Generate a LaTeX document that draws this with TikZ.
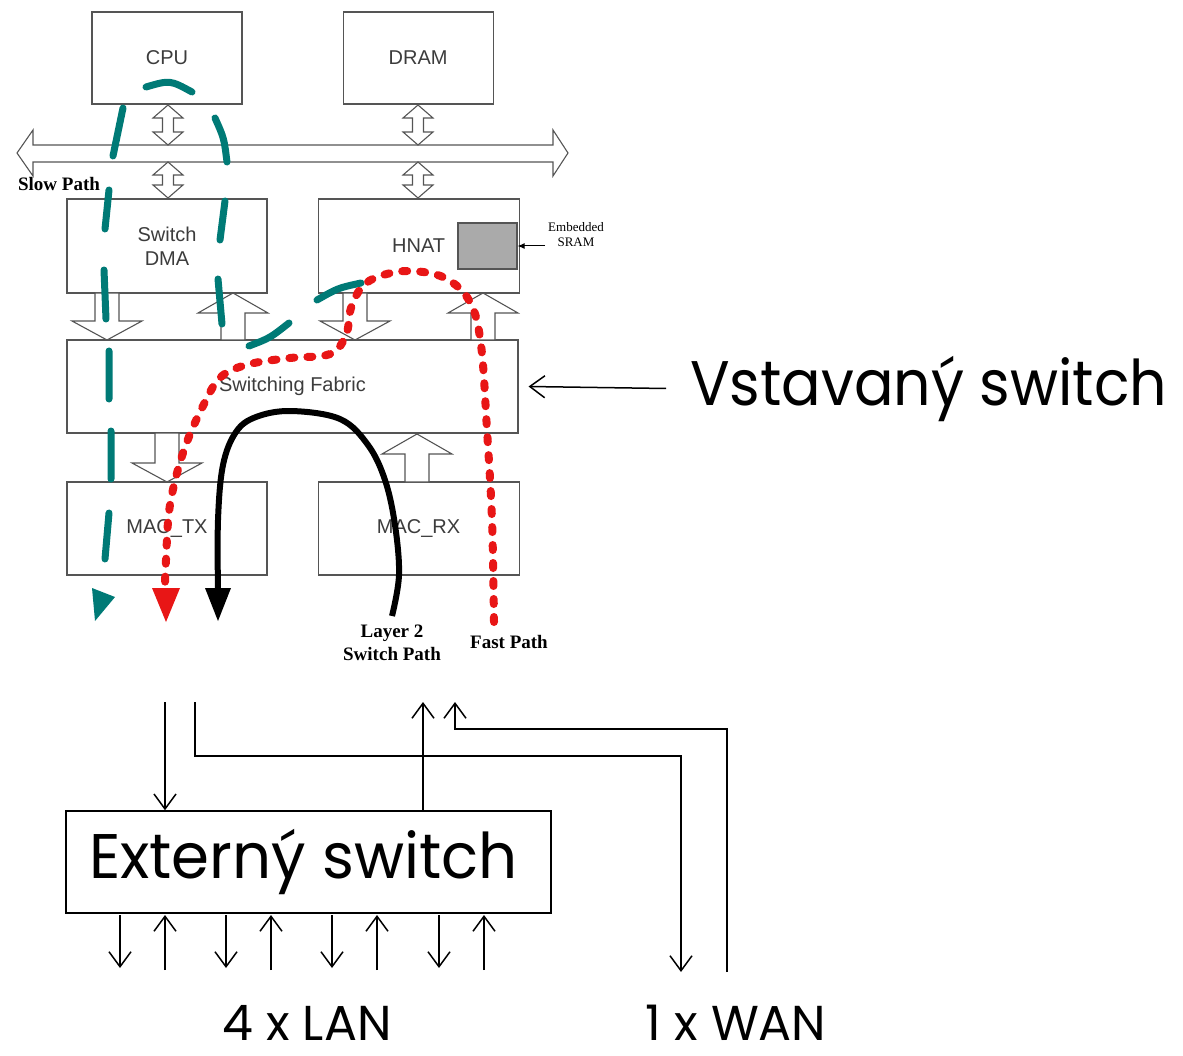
\documentclass[tikz,border=0pt]{standalone}
\usepackage{fontspec}
\setmainfont{Liberation Sans}
\newfontfamily\gothic{Poppins}
\newfontfamily\labelserif{Liberation Serif}
\usetikzlibrary{arrows.meta,positioning}
\definecolor{boxgray}{RGB}{85,85,85}
\definecolor{labelgray}{RGB}{60,60,60}
\definecolor{slowteal}{RGB}{0,122,118}
\definecolor{fastred}{RGB}{232,22,22}
\definecolor{sramgray}{RGB}{170,170,170}
\newcommand{\fatdown}[3]{\draw[fatarrow] (#1-12,#2) -- (#1-12,#3-19) -- (#1-35,#3-19) -- (#1,#3) -- (#1+35,#3-19) -- (#1+12,#3-19) -- (#1+12,#2) -- cycle;}
\newcommand{\fatup}[3]{\draw[fatarrow] (#1-12,#2) -- (#1-12,#3+20) -- (#1-35,#3+20) -- (#1,#3) -- (#1+35,#3+20) -- (#1+12,#3+20) -- (#1+12,#2) -- cycle;}
\newcommand{\dblarrow}[3]{\draw[fatarrow] (#1,#2) -- (#1+15,#2+13) -- (#1+5.5,#2+13) -- (#1+5.5,#3-13) -- (#1+15,#3-13) -- (#1,#3) -- (#1-15,#3-13) -- (#1-5.5,#3-13) -- (#1-5.5,#2+13) -- (#1-15,#2+13) -- cycle;}
\begin{document}
\begin{tikzpicture}[x=1pt,y=-1pt,
  blk/.style={draw=boxgray, line width=1.1pt, inner sep=0pt, text=labelgray, align=center, font=\fontsize{20}{24}\selectfont},
  fatarrow/.style={draw=boxgray, fill=white, line width=1.1pt},
  thinarrow/.style={line width=1.5pt, -{Straight Barb[length=15pt,width=22pt]}},
  slowpath/.style={draw=slowteal, line width=7pt, line cap=round},
  fastpath/.style={draw=fastred, line width=8pt, line cap=round, dash pattern=on 5pt off 13pt},
  switchpath/.style={line width=6pt},
  pathlabel/.style={font=\labelserif\bfseries\fontsize{19}{23}\selectfont, align=center, inner sep=0pt},
  bigtext/.style={font=\gothic\fontsize{63}{70}\selectfont, inner sep=0pt},
  midtext/.style={font=\gothic\fontsize{49}{55}\selectfont, inner sep=0pt}]
\useasboundingbox (0,0) rectangle (1183,1056);
\node[blk, minimum width=150pt, minimum height=92pt] (cpu) at (167,58) {CPU};
\node[blk, minimum width=150pt, minimum height=92pt, right=100pt of cpu] (dram) {DRAM};
\node[blk, minimum width=200pt, minimum height=94pt] (dma) at (167,246) {Switch\\DMA};
\node[blk, minimum width=201pt, minimum height=94pt, right=50pt of dma] (hnat) {HNAT};
\node[draw=boxgray, fill=sramgray, line width=1.1pt, minimum width=59pt, minimum height=46pt, inner sep=0pt] (sram) at (487.5,246) {};
\node[blk, minimum width=451pt, minimum height=93pt] (fabric) at (292.5,386.5) {Switching Fabric};
\node[blk, minimum width=200pt, minimum height=93pt] (mactx) at (167,528.5) {MAC\_TX};
\node[blk, minimum width=201pt, minimum height=93pt, right=50pt of mactx] (macrx) {MAC\_RX};
\draw[fatarrow] (17,153) -- (33,130) -- (33,145) -- (553,145) -- (553,130) -- (568,153) -- (553,176) -- (553,162) -- (33,162) -- (33,176) -- cycle;
\dblarrow{168}{105}{145}
\dblarrow{168}{162}{198}
\dblarrow{418}{105}{145}
\dblarrow{418}{162}{198}
\fatdown{107}{293}{340}
\fatup{233}{340}{293}
\fatdown{355}{293}{340}
\fatup{483}{340}{293}
\fatdown{167}{433}{482}
\fatup{417}{482}{434}
\node[font=\labelserif\fontsize{13}{15}\selectfont, align=center, inner sep=0pt] (sramlbl) at (576,235) {Embedded\\SRAM};
\draw[line width=1pt, -{Latex[length=7pt,width=6pt]}] ([xshift=-3pt]sramlbl.west |- sram.east) -- (sram.east);
\node[pathlabel] (slowlbl) at (59,184) {Slow Path};
\node[pathlabel] (l2lbl) at (392,643) {Layer 2\\Switch Path};
\node[pathlabel] (fastlbl) at (509,642) {Fast Path};
\draw[slowpath] (361,283) .. controls (338,288) .. (317,300)
  (289,323) .. controls (270,338) .. (249,346)
  (222,324) -- (218,279)
  (220,240) -- (225,201)
  (227,162) .. controls (224,138) .. (215,118)
  (192,92) .. controls (170,80) .. (146,87)
  (123,108) -- (113,156)
  (109,190) -- (105,229)
  (104,270) -- (106,319)
  (109,351) -- (109,399)
  (111,431) -- (111,479)
  (109,513) -- (105,559);
\fill[slowteal] (92,588) -- (115,597) -- (95,621) -- cycle;
\draw[fastpath] plot[smooth, tension=0.6] coordinates {(494,622) (492,520) (487,430) (481,345) (470,302) (445,278) (410,271) (380,276) (362,287) (351,308) (346,335) (330,354) (290,358) (250,364) (222,376) (205,402) (184,450) (170,505) (166,560) (165,586)};
\fill[fastred] (152,588) -- (180,588) -- (166,622) -- cycle;
\draw[switchpath] plot[smooth, tension=0.6] coordinates {(392,616) (399,575) (395,525) (385,480) (368,445) (340,419) (291,411) (256,417) (236,432) (223,465) (218,520) (218,590)};
\fill (205,588) -- (231,588) -- (218,621) -- cycle;
\node[bigtext, anchor=base west] (vst) at (690,405) {\scalebox{0.93}[1]{Vstavaný switch}};
\draw[thinarrow] ([xshift=-24pt]vst.west) -- ([xshift=10pt]fabric.east);
\node[draw, line width=1.5pt, minimum width=485pt, minimum height=102pt, bigtext] (ext) at (308.5,862) {\hspace*{-10pt}\raisebox{-3pt}{\scalebox{0.97}[1]{Externý switch}}};
\coordinate (txa) at (165,702);
\coordinate (txb) at (195,702);
\coordinate (rxa) at (423,702);
\coordinate (rxb) at (455,702);
\coordinate (wanout) at (681,972);
\coordinate (wanin) at (727,972);
\coordinate (benda) at (681,756);
\coordinate (bendb) at (727,729);
\draw[thinarrow] (txa) -- (txa |- ext.north);
\draw[thinarrow] (txb) |- (benda) -- (wanout);
\draw[thinarrow] (rxa |- ext.north) -- (rxa);
\draw[thinarrow] (wanin) -- (bendb) -| (rxb);
\foreach \x in {120,226,332,439} \draw[thinarrow] (\x,915) -- (\x,968);
\foreach \x in {165,271,377,484} \draw[thinarrow] (\x,970) -- (\x,915);
\node[midtext, anchor=base] (lan) at (307,1040) {4 x LAN};
\node[midtext, anchor=base] (wan) at (736,1040) {1 x WAN};
\end{tikzpicture}
\end{document}
